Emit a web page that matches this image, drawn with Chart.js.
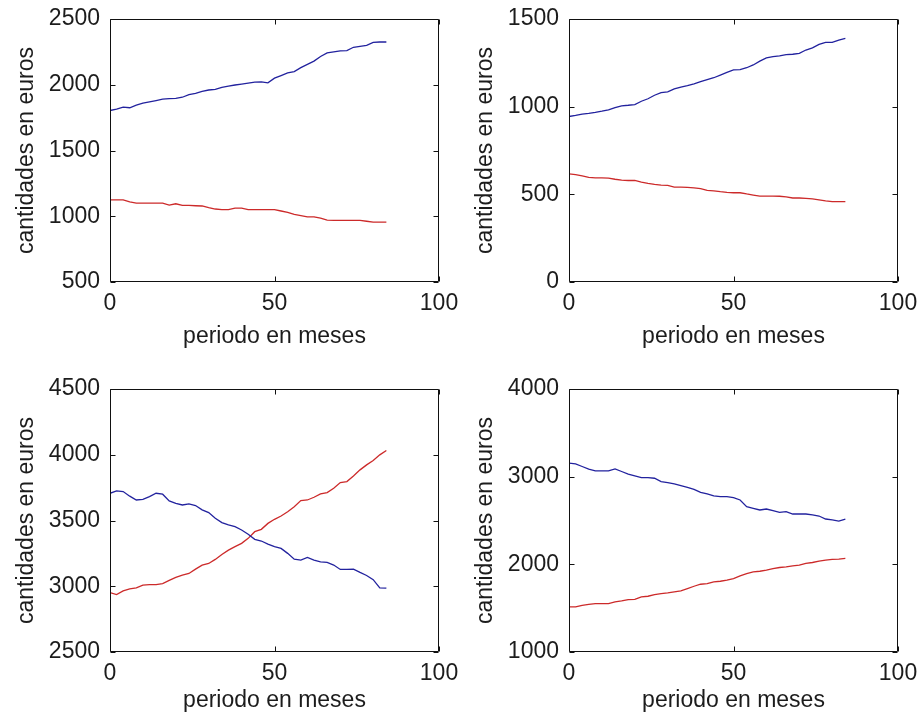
<!DOCTYPE html>
<html>
<head>
<meta charset="utf-8">
<script src="https://cdn.jsdelivr.net/npm/chart.js@4/dist/chart.umd.min.js"></script>
<style>
  html, body { margin: 0; padding: 0; background: #fff; }
  body { width: 919px; height: 719px; position: relative; overflow: hidden; }
  canvas { position: absolute; }
</style>
</head>
<body>
<canvas id="c1" width="459" height="360" style="left:0;top:0"></canvas>
<canvas id="c2" width="460" height="360" style="left:459px;top:0"></canvas>
<canvas id="c3" width="459" height="359" style="left:0;top:360px"></canvas>
<canvas id="c4" width="460" height="359" style="left:459px;top:360px"></canvas>
<script>
// months (every 2 months, 0..84)
const months = [0, 2, 4, 6, 8, 10, 12, 14, 16, 18, 20, 22, 24, 26, 28, 30, 32, 34, 36, 38, 40, 42,
  44, 46, 48, 50, 52, 54, 56, 58, 60, 62, 64, 66, 68, 70, 72, 74, 76, 78, 80, 82, 84];

// top-left
const blue1 = [1804, 1815, 1830, 1825, 1845, 1860, 1870, 1880, 1890, 1895, 1897, 1905, 1925, 1935,
  1950, 1960, 1965, 1980, 1990, 1998, 2005, 2012, 2020, 2022, 2015, 2050, 2070, 2090, 2100, 2130,
  2155, 2180, 2215, 2242, 2250, 2258, 2260, 2285, 2292, 2300, 2322, 2325, 2325];
const red1 = [1125, 1125, 1125, 1110, 1100, 1100, 1100, 1100, 1100, 1085, 1095, 1082, 1082, 1080,
  1078, 1065, 1055, 1050, 1050, 1062, 1062, 1050, 1050, 1050, 1050, 1050, 1040, 1030, 1015, 1005,
  995, 995, 985, 970, 968, 968, 968, 968, 968, 962, 956, 956, 956];

// top-right
const blue2 = [944, 950, 958, 962, 967, 974, 982, 995, 1005, 1008, 1012, 1031, 1045, 1065, 1080,
  1084, 1101, 1112, 1120, 1130, 1143, 1154, 1165, 1180, 1195, 1210, 1211, 1222, 1238, 1260, 1278,
  1285, 1290, 1297, 1299, 1304, 1323, 1335, 1355, 1367, 1367, 1380, 1390];
const red2 = [617, 613, 605, 597, 594, 594, 592, 586, 581, 579, 579, 570, 563, 557, 553, 551, 541,
  541, 540, 537, 532, 522, 520, 515, 511, 509, 509, 502, 496, 490, 490, 490, 489, 485, 479, 479,
  477, 474, 469, 463, 458, 458, 458];

// bottom-left
const blue3 = [3707, 3725, 3720, 3685, 3656, 3661, 3682, 3707, 3700, 3649, 3631, 3618, 3626, 3614,
  3581, 3560, 3517, 3484, 3466, 3453, 3428, 3395, 3357, 3344, 3321, 3301, 3288, 3250, 3206, 3199,
  3219, 3199, 3186, 3181, 3161, 3128, 3128, 3130, 3105, 3082, 3050, 2988, 2985];
const red3 = [2952, 2937, 2965, 2980, 2988, 3008, 3013, 3013, 3020, 3045, 3067, 3085, 3097, 3130,
  3161, 3173, 3204, 3242, 3275, 3301, 3326, 3364, 3415, 3433, 3478, 3509, 3534, 3567, 3605, 3651,
  3656, 3677, 3702, 3712, 3745, 3788, 3796, 3839, 3885, 3923, 3956, 3999, 4032];

// bottom-right
const blue4 = [3154, 3146, 3116, 3085, 3066, 3066, 3066, 3089, 3059, 3028, 3009, 2990, 2990, 2982,
  2944, 2933, 2918, 2898, 2879, 2856, 2822, 2803, 2780, 2772, 2772, 2761, 2734, 2658, 2639, 2620,
  2631, 2612, 2593, 2601, 2574, 2574, 2574, 2563, 2551, 2517, 2506, 2494, 2517];
const red4 = [1514, 1514, 1533, 1544, 1552, 1552, 1552, 1571, 1582, 1598, 1601, 1628, 1636, 1655,
  1666, 1674, 1685, 1697, 1723, 1750, 1773, 1781, 1800, 1807, 1819, 1838, 1868, 1895, 1914, 1921,
  1933, 1952, 1964, 1971, 1983, 1990, 2010, 2021, 2036, 2048, 2056, 2059, 2067];

const xLabel = "periodo en meses";
const yLabel = "cantidades en euros";

const BLUE = "#22229e";
const RED = "#cc2a2a";
const TEXT = "#1c1c1c";
const FONT = "'Liberation Sans', Arial, sans-serif";

// matlab-like box with inward ticks on all four sides
const boxPlugin = {
  id: "matlabBox",
  afterDraw(chart) {
    const { ctx, chartArea: a, scales } = chart;
    const L = Math.round(a.left) + 0.5, R = Math.round(a.right) - 0.5;
    const T = Math.round(a.top) + 0.5, B = Math.round(a.bottom) - 0.5;
    const len = 5;
    ctx.save();
    ctx.strokeStyle = "#111";
    ctx.lineWidth = 1;
    ctx.beginPath();
    ctx.rect(L, T, R - L, B - T);
    scales.x.ticks.forEach((t) => {
      const px = Math.round(scales.x.getPixelForValue(t.value)) + 0.5;
      ctx.moveTo(px, B); ctx.lineTo(px, B - len);
      ctx.moveTo(px, T); ctx.lineTo(px, T + len);
    });
    scales.y.ticks.forEach((t) => {
      const py = Math.round(scales.y.getPixelForValue(t.value)) + 0.5;
      ctx.moveTo(L, py); ctx.lineTo(L + len, py);
      ctx.moveTo(R, py); ctx.lineTo(R - len, py);
    });
    ctx.stroke();
    ctx.restore();
  },
};

function noPadding(scale) {
  scale.paddingLeft = 0;
  scale.paddingRight = 0;
  scale.paddingTop = 0;
  scale.paddingBottom = 0;
}

function makeChart(id, blue, red, yMin, yMax, yStep, pad, xAxisH, titlePad) {
  const ctx = document.getElementById(id).getContext("2d");
  return new Chart(ctx, {
    type: "line",
    data: {
      datasets: [
        { data: months.map((m, i) => ({ x: m, y: blue[i] })), borderColor: BLUE },
        { data: months.map((m, i) => ({ x: m, y: red[i] })), borderColor: RED },
      ],
    },
    options: {
      responsive: false,
      animation: false,
      layout: { padding: pad },
      elements: {
        line: { borderWidth: 1.3, tension: 0, fill: false },
        point: { radius: 0 },
      },
      plugins: { legend: { display: false }, tooltip: { enabled: false } },
      scales: {
        x: {
          type: "linear",
          min: 0,
          max: 100,
          grid: { display: false, drawTicks: false },
          border: { display: false },
          ticks: { stepSize: 50, color: TEXT, padding: 8, maxRotation: 0, font: { family: FONT, size: 23 },
            callback: (v) => String(v) },
          title: { display: true, text: xLabel, color: TEXT, padding: { top: 0, bottom: titlePad }, font: { family: FONT, size: 23 } },
          afterFit(scale) { scale.height = xAxisH; noPadding(scale); },
        },
        y: {
          min: yMin,
          max: yMax,
          grid: { display: false, drawTicks: false },
          border: { display: false },
          ticks: { stepSize: yStep, color: TEXT, padding: 10, font: { family: FONT, size: 23 },
            callback: (v) => String(v) },
          title: { display: true, text: yLabel, color: TEXT, padding: { top: 13, bottom: 0 }, font: { family: FONT, size: 23 } },
          afterFit(scale) { scale.width = 110; noPadding(scale); },
        },
      },
    },
    plugins: [boxPlugin],
  });
}

makeChart("c1", blue1, red1, 500, 2500, 500, { left: 0, right: 20, top: 19, bottom: 0 }, 78, 10);
makeChart("c2", blue2, red2, 0, 1500, 500, { left: 0, right: 21, top: 19, bottom: 0 }, 78, 10);
makeChart("c3", blue3, red3, 2500, 4500, 500, { left: 0, right: 20, top: 29, bottom: 0 }, 67, 5);
makeChart("c4", blue4, red4, 1000, 4000, 1000, { left: 0, right: 21, top: 29, bottom: 0 }, 67, 5);
</script>
</body>
</html>
